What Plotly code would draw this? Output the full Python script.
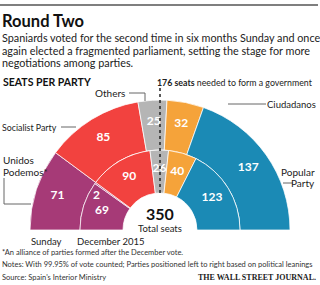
import plotly.graph_objects as go

# ---------------- data ----------------
parties = ["Unidos Podemos", "Socialist Party", "Others", "Ciudadanos", "Popular Party"]
sunday_seats = [71, 85, 25, 32, 137]
dec_groups = ["Unidos Podemos", "Unidos Podemos (other)", "Socialist Party", "Others", "Ciudadanos", "Popular Party"]
dec_seats = [69, 2, 90, 26, 40, 123]
total_seats = 350
majority = 176

party_colors = {
    "Unidos Podemos": "#a63a77",
    "Unidos Podemos (other)": "#a63a77",
    "Socialist Party": "#f2423f",
    "Others": "#b5b5b5",
    "Ciudadanos": "#f5a33a",
    "Popular Party": "#1b8ab5",
}

# ---------------- geometry (style) ----------------
W, H = 320, 285
CX, CY = 160, 230          # centre of the half donut in pixels
RMAX = 150                 # radial axis range -> 1 unit = 1 px
HOLE, SPLIT, OUTER = 37, 80, 130
FONT = "Lato"


def px(x, y):
    return x / W, 1 - y / H


def ring(values, names):
    cum, centers, widths = 0, [], []
    for v in values:
        centers.append((cum + v / 2) / total_seats * 180)
        widths.append(v / total_seats * 180)
        cum += v
    return centers, widths, [party_colors[n] for n in names]


fig = go.Figure()

# outer ring: Sunday
oc, ow, ocol = ring(sunday_seats, parties)
fig.add_trace(go.Barpolar(theta=oc, width=ow, r=[OUTER - SPLIT] * len(oc), base=[SPLIT] * len(oc),
                          marker=dict(color=ocol, line=dict(color="rgba(255,255,255,0.75)", width=1)),
                          hoverinfo="skip", showlegend=False))
# inner ring: December 2015
ic, iw, icol = ring(dec_seats, dec_groups)
fig.add_trace(go.Barpolar(theta=ic, width=iw, r=[SPLIT - HOLE] * len(ic), base=[HOLE] * len(ic),
                          marker=dict(color=icol, line=dict(color="rgba(255,255,255,0.75)", width=1)),
                          hoverinfo="skip", showlegend=False))

# segment labels
fig.add_trace(go.Scatterpolar(theta=oc, r=[108] * len(oc), mode="text",
                              text=[str(v) for v in sunday_seats],
                              textfont=dict(family=FONT, size=12, color="white", weight="bold"),
                              hoverinfo="skip", showlegend=False))
lab_theta = [c - 8 if v < 5 else c for c, v in zip(ic, dec_seats)]
lab_r = [SPLIT - 8 if v < 5 else 61 for v in dec_seats]
fig.add_trace(go.Scatterpolar(theta=lab_theta, r=lab_r, mode="text",
                              text=[str(v) for v in dec_seats],
                              textfont=dict(family=FONT, size=12, color="white", weight="bold"),
                              hoverinfo="skip", showlegend=False))

# majority line
maj_theta = (majority - 1) / total_seats * 180
fig.add_trace(go.Scatterpolar(theta=[maj_theta, maj_theta], r=[HOLE, 145], mode="lines",
                              line=dict(color="#222", width=1.5, dash="dot"),
                              hoverinfo="skip", showlegend=False))

x0, y1 = px(CX - RMAX, CY - RMAX)
x1, y0 = px(CX + RMAX, CY)
fig.update_layout(
    width=W, height=H, margin=dict(l=0, r=0, t=0, b=0),
    paper_bgcolor="white", plot_bgcolor="white",
    polar=dict(domain=dict(x=[x0, x1], y=[y0, y1]), sector=[0, 180], bargap=0,
               bgcolor="rgba(0,0,0,0)",
               radialaxis=dict(range=[0, RMAX], autorange=False, showticklabels=False,
                               showline=False, showgrid=False, ticks=""),
               angularaxis=dict(showticklabels=False, showline=False, showgrid=False, ticks="",
                                rotation=180, direction="clockwise")),
)

ann = []


def text(x, y, s, size=11, color="#222", anchor="left", bold=False, family=FONT):
    xx, yy = px(x, y)
    ann.append(dict(x=xx, y=yy, xref="paper", yref="paper", text=s, showarrow=False,
                    xanchor=anchor, yanchor="middle", align=anchor,
                    font=dict(family=family, size=size, color=color, weight="bold" if bold else "normal")))


text(0, 21, "Round Two", size=16.5, color="#111", bold=True)
text(0, 38, "Spaniards voted for the second time in six months Sunday and once", size=10.8)
text(0, 50, "again elected a fragmented parliament, setting the stage for more", size=10.8)
text(0, 62, "negotiations among parties.", size=10.8)
text(1, 82, "SEATS PER PARTY", size=10.5, color="#111", bold=True)
text(155, 82, "<b>176 seats</b> needed to form a government", size=8.8)
text(127, 93, "Others", size=10, anchor="right")
text(318, 104, "Ciudadanos", size=9.5, anchor="right")
text(59, 127, "Socialist Party", size=8.8, anchor="right")
text(1, 160, "Unidos", size=10)
text(1, 172, "Podemos*", size=10)
text(317, 172, "Popular", size=10, anchor="right")
text(317, 183, "Party", size=10, anchor="right")
text(CX, 213, "350", size=16, color="#111", anchor="center", bold=True)
text(CX, 228, "Total seats", size=9.5, anchor="center")
text(29, 241, "Sunday", size=9.5)
text(75, 241, "December 2015", size=9.5)
text(0, 252, "*An alliance of parties formed after the December vote.", size=7.5, color="#333")
text(0, 264, "Notes: With 99.95% of vote counted; Parties positioned left to right based on political leanings",
     size=7.5, color="#333")
text(0, 277, "Source: Spain's Interior Ministry", size=7.5, color="#333")
text(318, 277, "THE WALL STREET JOURNAL.", size=8, color="#222", anchor="right", bold=True,
     family="Liberation Serif")
fig.update_layout(annotations=ann)

shapes = []


def seg(xa, ya, xb, yb, color="#666", width=1):
    a, b = px(xa, ya), px(xb, yb)
    shapes.append(dict(type="line", xref="paper", yref="paper", x0=a[0], y0=a[1], x1=b[0], y1=b[1],
                       line=dict(color=color, width=width)))


seg(0, 5, 318, 5, color="#555", width=1.5)
seg(129, 93, 145, 93)
seg(145, 93, 145, 101)
seg(228, 104, 266, 104)
seg(61, 127, 76, 127)
seg(4, 178, 4, 204)
seg(4, 204, 31, 204)
seg(283, 183, 293, 183)
fig.update_layout(shapes=shapes)

fig.write_html("out.html")
